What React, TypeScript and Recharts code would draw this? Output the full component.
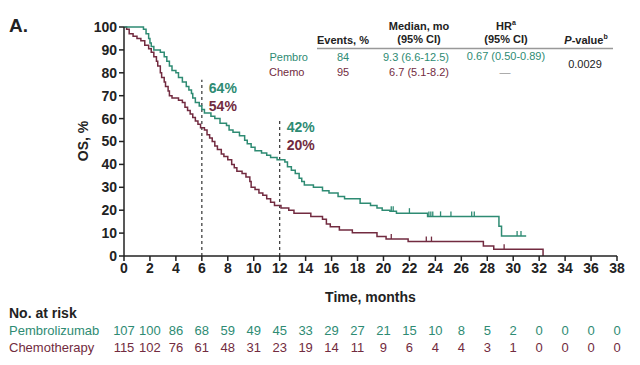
import React from 'react';
import { ComposedChart, Line, XAxis, YAxis, ReferenceLine } from 'recharts';

const GREEN = '#2e8b73';
const MAROON = '#722b40';
const FONT = '"Liberation Sans", Arial, Helvetica, sans-serif';

// Kaplan-Meier steps (months, OS %)
const pembroTimes = [0, 1.5, 1.7, 1.9, 2.0, 2.1, 2.3, 2.8, 3.1, 3.3, 3.5, 3.7, 4.0, 4.2, 4.5, 4.8, 5.0, 5.2, 5.3, 5.5, 5.8, 6.0, 6.2, 6.7, 7.0, 7.4, 7.9, 8.1, 8.4, 8.9, 9.3, 9.5, 9.8, 10.1, 10.6, 11.0, 11.3, 11.8, 12.4, 12.6, 12.9, 13.2, 13.5, 13.7, 13.9, 14.6, 15.3, 15.8, 16.5, 17.0, 18.2, 19.0, 19.5, 19.9, 20.5, 21.0, 23.4, 28.9, 29.1, 31.0];
const pembroSurv = [100, 99, 97, 95, 93, 91.5, 90, 89, 87, 85, 83, 81, 80, 78, 76, 74, 72.5, 71, 69, 67, 65.5, 64, 62.5, 61, 60, 58, 57, 55, 54, 52.5, 50.5, 49, 47.5, 46, 45, 44, 43, 42, 41, 39, 37.5, 36, 34, 32.5, 31, 30, 28.5, 27.5, 26, 25, 23, 22, 21, 20, 19.5, 18.7, 17.3, 13, 8.7, 8.7];

const chemoTimes = [0, 0.2, 0.4, 0.7, 1.0, 1.3, 1.6, 1.9, 2.1, 2.3, 2.5, 2.6, 2.8, 2.9, 3.1, 3.2, 3.4, 3.5, 3.7, 4.2, 4.5, 4.7, 4.9, 5.1, 5.3, 5.5, 5.7, 5.9, 6.2, 6.4, 6.6, 6.8, 7.0, 7.2, 7.5, 7.7, 8.0, 8.3, 8.5, 8.7, 9.1, 9.4, 9.7, 9.8, 10.1, 10.4, 10.7, 11.0, 11.3, 11.6, 12.1, 12.7, 13.1, 14.4, 15.3, 15.6, 15.9, 16.6, 17.6, 19.5, 20.2, 21.9, 27.7, 28.5, 32.3];
const chemoSurv = [100, 99, 97, 96, 95, 94, 92, 90.5, 89, 87, 85, 83, 80, 78, 76, 74, 72, 70, 69, 68, 67, 65, 63.5, 62, 60.5, 59, 57.5, 56, 55, 53, 51.5, 50, 48, 46.5, 44.5, 43.5, 42, 40, 38.5, 37, 36, 34.5, 32.5, 30, 29, 27.5, 26.5, 25, 23.5, 22, 21, 20, 18.7, 17.2, 16, 14, 12.8, 11.4, 10.2, 8.5, 7.4, 6.3, 4.4, 3, 0];

// censor marks (months)
const pembroCensors = [20.6, 20.75, 22.0, 23.5, 23.65, 23.8, 24.4, 25.2, 26.8, 27.0, 30.3, 30.6];
const chemoCensors = [20.6, 23.3, 23.7, 29.3];

const xTicks = [0, 2, 4, 6, 8, 10, 12, 14, 16, 18, 20, 22, 24, 26, 28, 30, 32, 34, 36, 38];
const yTicks = [0, 10, 20, 30, 40, 50, 60, 70, 80, 90, 100];

const pembroAtRisk = [107, 100, 86, 68, 59, 49, 45, 33, 29, 27, 21, 15, 10, 8, 5, 2, 0, 0, 0, 0];
const chemoAtRisk = [115, 102, 76, 61, 48, 31, 23, 19, 14, 11, 9, 6, 4, 4, 3, 1, 0, 0, 0, 0];

const landmarks = [
  { t: 6, top: 77, pembro: '64%', chemo: '54%' },
  { t: 12, top: 60, pembro: '42%', chemo: '20%' },
];

const W = 640;
const H = 365;
const LEFT = 124;
const RIGHT = 617;
const TOP = 27;
const BOTTOM = 256;

const xPix = (t: number) => LEFT + (t / 38) * (RIGHT - LEFT);
const yPix = (s: number) => BOTTOM - (s / 100) * (BOTTOM - TOP);

const toSteps = (times: number[], surv: number[]) => times.map((t, i) => ({ t, s: surv[i] }));
const survAt = (times: number[], surv: number[], t: number) => {
  let v = surv[0];
  for (let i = 0; i < times.length; i++) if (times[i] <= t) v = surv[i];
  return v;
};
const toCensors = (cs: number[], times: number[], surv: number[]) =>
  cs.map(t => ({ t, s: survAt(times, surv, t) }));

const pembroData = toSteps(pembroTimes, pembroSurv);
const chemoData = toSteps(chemoTimes, chemoSurv);
const pembroCensorData = toCensors(pembroCensors, pembroTimes, pembroSurv);
const chemoCensorData = toCensors(chemoCensors, chemoTimes, chemoSurv);

const censorDot = (color: string) => (props: any) => {
  const { cx, cy, index } = props;
  return <line key={index} x1={cx} x2={cx} y1={cy - 5} y2={cy} stroke={color} strokeWidth={1.3} />;
};

const App: React.FC = () => {
  return (
    <div style={{ position: 'absolute', left: 0, top: 0, width: W, height: H, background: '#fff', fontFamily: FONT }}>
      <ComposedChart
        width={W}
        height={H}
        margin={{ top: TOP, right: W - RIGHT, bottom: H - BOTTOM - 30, left: LEFT - 60 }}
      >
        <XAxis
          dataKey="t"
          type="number"
          domain={[0, 38]}
          ticks={xTicks}
          interval={0}
          allowDuplicatedCategory={false}
          height={30}
          tickSize={5}
          tickMargin={2}
          axisLine={{ stroke: '#222', strokeWidth: 1.5 }}
          tickLine={{ stroke: '#222', strokeWidth: 1.5 }}
          tick={{ fill: '#222', fontSize: 14, fontWeight: 700, fontFamily: FONT }}
        />
        <YAxis
          dataKey="s"
          type="number"
          domain={[0, 100]}
          ticks={yTicks}
          interval={0}
          width={60}
          tickSize={5}
          tickMargin={2}
          axisLine={{ stroke: '#222', strokeWidth: 1.5 }}
          tickLine={{ stroke: '#222', strokeWidth: 1.5 }}
          tick={{ fill: '#222', fontSize: 14, fontWeight: 700, fontFamily: FONT }}
        />
        {landmarks.map(l => (
          <ReferenceLine
            key={l.t}
            segment={[{ x: l.t, y: 0 }, { x: l.t, y: l.top }]}
            stroke="#333"
            strokeWidth={1.2}
            strokeDasharray="3 3"
          />
        ))}
        <Line data={chemoData} dataKey="s" type="stepAfter" stroke={MAROON} strokeWidth={1.5} dot={false} isAnimationActive={false} />
        <Line data={pembroData} dataKey="s" type="stepAfter" stroke={GREEN} strokeWidth={1.5} dot={false} isAnimationActive={false} />
        <Line data={chemoCensorData} dataKey="s" stroke="none" dot={censorDot(MAROON)} activeDot={false} isAnimationActive={false} />
        <Line data={pembroCensorData} dataKey="s" stroke="none" dot={censorDot(GREEN)} activeDot={false} isAnimationActive={false} />
      </ComposedChart>

      <svg width={W} height={H} style={{ position: 'absolute', left: 0, top: 0, pointerEvents: 'none' }} fontFamily={FONT}>
        <text x={9} y={25} dominantBaseline="central" fontSize={19} fontWeight={700} fill="#222">A.</text>

        <text x={83} y={141} dominantBaseline="central" textAnchor="middle" fontSize={14} fontWeight={700} fill="#222" transform="rotate(-90 83 141)">OS, %</text>

        {landmarks.map(l => (
          <g key={l.t}>
            <text x={xPix(l.t) + 7} y={yPix(l.top) + 8} dominantBaseline="central" fontSize={14} fontWeight={700} fill={GREEN}>{l.pembro}</text>
            <text x={xPix(l.t) + 7} y={yPix(l.top) + 26} dominantBaseline="central" fontSize={14} fontWeight={700} fill={MAROON}>{l.chemo}</text>
          </g>
        ))}

        {/* summary table */}
        <g fontSize={11} fill="#222">
          <text x={419} y={26} textAnchor="middle" dominantBaseline="central" fontWeight={700} fill="#222">Median, mo</text>
          <text x={419} y={39} textAnchor="middle" dominantBaseline="central" fontWeight={700} fill="#222">(95% CI)</text>
          <text x={343} y={40} textAnchor="middle" dominantBaseline="central" fontWeight={700} fill="#222">Events, %</text>
          <text x={506} y={26} textAnchor="middle" dominantBaseline="central" fontWeight={700} fill="#222">
            HR<tspan fontSize={7} dy={-4}>a</tspan>
          </text>
          <text x={506} y={39} textAnchor="middle" dominantBaseline="central" fontWeight={700} fill="#222">(95% CI)</text>
          <text x={586} y={40} textAnchor="middle" dominantBaseline="central" fontWeight={700} fill="#222">
            <tspan fontStyle="italic">P</tspan>-value<tspan fontSize={7} dy={-4}>b</tspan>
          </text>
          <line x1={317} x2={613} y1={48.5} y2={48.5} stroke="#999" strokeWidth={1.5} />

          <text x={308} y={57} textAnchor="end" dominantBaseline="central" fill={GREEN}>Pembro</text>
          <text x={343} y={57} textAnchor="middle" dominantBaseline="central" fill={GREEN}>84</text>
          <text x={449} y={57} textAnchor="end" dominantBaseline="central" fill={GREEN}>9.3 (6.6-12.5)</text>
          <text x={506} y={56} textAnchor="middle" dominantBaseline="central" fill={GREEN}>0.67 (0.50-0.89)</text>

          <text x={269} y={72} dominantBaseline="central" fill={MAROON}>Chemo</text>
          <text x={343} y={72} textAnchor="middle" dominantBaseline="central" fill={MAROON}>95</text>
          <text x={449} y={72} textAnchor="end" dominantBaseline="central" fill={MAROON}>6.7 (5.1-8.2)</text>
          <text x={505} y={72} textAnchor="middle" dominantBaseline="central" fill="#999">—</text>

          <text x={585} y={64} textAnchor="middle" dominantBaseline="central" fill="#222">0.0029</text>
        </g>

        <text x={(LEFT + RIGHT) / 2} y={297} textAnchor="middle" dominantBaseline="central" fontSize={14} fontWeight={700} fill="#222">Time, months</text>

        {/* number at risk */}
        <text x={9} y={313} dominantBaseline="central" fontSize={14} fontWeight={700} fill="#222">No. at risk</text>
        <text x={9} y={330} dominantBaseline="central" fontSize={13} fill={GREEN}>Pembrolizumab</text>
        <text x={9} y={347} dominantBaseline="central" fontSize={13} fill={MAROON}>Chemotherapy</text>
        {xTicks.map((t, i) => (
          <g key={t}>
            <text x={xPix(t)} y={330} textAnchor="middle" dominantBaseline="central" fontSize={13} fill={GREEN}>{pembroAtRisk[i]}</text>
            <text x={xPix(t)} y={347} textAnchor="middle" dominantBaseline="central" fontSize={13} fill={MAROON}>{chemoAtRisk[i]}</text>
          </g>
        ))}
      </svg>
    </div>
  );
};

export default App;
